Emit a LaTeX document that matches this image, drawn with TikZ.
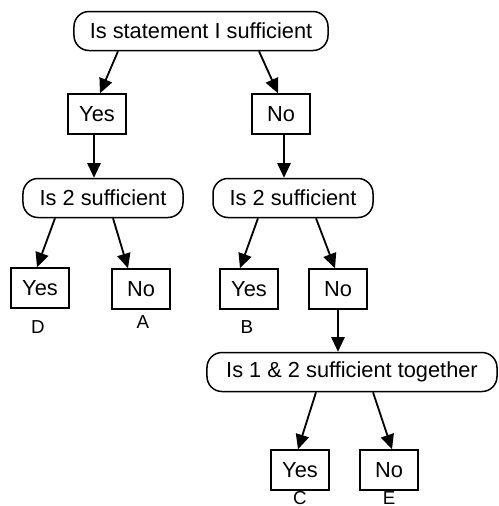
\documentclass[tikz,border=0pt]{standalone}
\usepackage{fontspec}
\setmainfont{Liberation Sans}
\usetikzlibrary{arrows.meta,calc}

\tikzset{
  qbox/.style={draw,line width=0.45mm,rounded corners=4.5mm,minimum height=11.7mm,inner sep=0pt},
  abox/.style={draw,line width=0.45mm,minimum width=17.4mm,minimum height=12mm,inner sep=0pt},
  lbl/.style={inner sep=0pt,font=\fontsize{16}{18}\selectfont},
  arr/.style={line width=0.55mm,-{Triangle[length=4.4mm,width=4mm]}}
}

\begin{document}
\begin{tikzpicture}[x=0.3mm,y=-0.3mm,font=\fontsize{18.6}{22}\selectfont]
  \useasboundingbox (0,0) rectangle (499,506);
  % questions
  \node[qbox,minimum width=76.2mm] (stmt) at (201,31) {Is statement I sufficient};
  \node[qbox,minimum width=48mm] (twoL) at (103,198) {Is 2 sufficient};
  \node[qbox,minimum width=48mm] (twoR) at (293,198) {Is 2 sufficient};
  \node[qbox,minimum width=87mm] (both) at (352,372) {Is 1 \& 2 sufficient together};
  % answers
  \node[abox] (yesA) at (97,114) {Yes};
  \node[abox] (noA) at (281,114) {No};
  \node[abox] (yesD) at (40,288) {Yes};
  \node[abox] (noA2) at (141,289) {No};
  \node[abox] (yesB) at (249,289) {Yes};
  \node[abox] (noB) at (338,289) {No};
  \node[abox] (yesC) at (300,470) {Yes};
  \node[abox] (noE) at (389,470) {No};
  % choices under the boxes
  \node[lbl] (D) at (38,327) {D};
  \node[lbl] (A) at (143,322) {A};
  \node[lbl] (B) at (247,327) {B};
  \node[lbl] (C) at (300,498) {C};
  \node[lbl] (E) at (389,498) {E};
  % arrows
  \draw[arr] ($(stmt.south)+(-83,0)$) -- ($(yesA.north)+(3,0)$);
  \draw[arr] ($(stmt.south)+(58,0)$) -- ($(noA.north)+(-3,0)$);
  \draw[arr] ($(yesA.south)+(-3,0)$) -- ($(yesA.south |- twoL.north)+(-3,0)$);
  \draw[arr] ($(noA.south)+(3,0)$) -- ($(noA.south |- twoR.north)+(3,0)$);
  \draw[arr] ($(twoL.south)+(-48,0)$) -- ($(yesD.north)+(-3,0)$);
  \draw[arr] ($(twoL.south)+(10,0)$) -- ($(noA2.north)+(-13,0)$);
  \draw[arr] ($(twoR.south)+(-35,0)$) -- ($(yesB.north)+(-9,0)$);
  \draw[arr] ($(twoR.south)+(23,0)$) -- ($(noB.north)+(-3,0)$);
  \draw[arr] (noB.south) -- (noB.south |- both.north);
  \draw[arr] ($(both.south)+(-36,0)$) -- ($(yesC.north)+(-2,0)$);
  \draw[arr] ($(both.south)+(21,0)$) -- ($(noE.north)+(3,0)$);
\end{tikzpicture}
\end{document}
